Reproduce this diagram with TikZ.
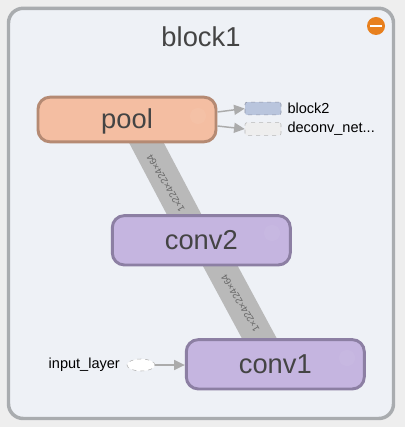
\documentclass[tikz,border=0pt]{standalone}
\usepackage{fontspec}
\setmainfont{Liberation Sans}
\usetikzlibrary{shapes,arrows.meta,positioning,calc,backgrounds}
\definecolor{pagegray}{HTML}{EEEEEE}
\definecolor{blockfill}{HTML}{EEF1F6}
\definecolor{blockline}{HTML}{A9ACAF}
\definecolor{poolfill}{HTML}{F4BEA2}
\definecolor{poolline}{HTML}{B58A73}
\definecolor{convfill}{HTML}{C5B5E0}
\definecolor{convline}{HTML}{8C7FA3}
\definecolor{edgegray}{HTML}{B9B9B9}
\definecolor{arrowgray}{HTML}{ABABAB}
\definecolor{titlegray}{HTML}{444444}
\definecolor{minusorange}{HTML}{E8801E}
\definecolor{outfill}{HTML}{B9C5DD}
\definecolor{outline}{HTML}{8F96A8}
\tikzset{
    layer/.style={draw, line width=2.2pt, rounded corners=9pt, minimum width=133.5pt, text height=14pt, text depth=0pt, text=titlegray, font=\fontsize{20.5pt}{22pt}\selectfont},
    poolbox/.style={layer, fill=poolfill, draw=poolline, minimum height=33.5pt},
    convbox/.style={layer, fill=convfill, draw=convline, minimum height=37pt},
    flowedge/.style={edgegray, line width=23pt},
    flowlabel/.style={font=\fontsize{7.2pt}{8pt}\selectfont, text=black!60, rotate=121, inner sep=0pt},
    smallarrow/.style={arrowgray, line width=1.1pt, -{Triangle[length=8pt,width=7.5pt]}},
    ghost/.style={circle, fill=white, opacity=0.05, minimum size=12pt, inner sep=0pt},
    smalllabel/.style={font=\fontsize{10.9pt}{12pt}\selectfont, inner sep=0pt},
    outbox/.style={dashed, minimum width=27pt, minimum height=9.5pt, rounded corners=1.5pt, inner sep=0pt}
}
\begin{document}
\begin{tikzpicture}[x=0.75pt,y=-0.75pt]
                \useasboundingbox (0,0) rectangle (405,427);
                % Layer nodes
                \node[poolbox] (pool) at (127,119.5) {pool};
                \node[convbox] (conv2) at (201.3,240.3) {conv2};
                \node[convbox] (conv1) at (275.3,364.3) {conv1};
                \node[ghost] (poolicon) at (198,116) {};
                \node[ghost] (conv2icon) at (272,233) {};
                \node[ghost] (conv1icon) at (347,358) {};

                % Block frame and title
                \begin{scope}[on background layer]
                    \fill[pagegray] (0,0) rectangle (405,427);
                    \draw[blockline, fill=blockfill, line width=2.6pt, rounded corners=11pt] (8.5,8.3) rectangle (393.5,418.5);
                \end{scope}
                \node[text=titlegray, font=\fontsize{20.5pt}{24pt}\selectfont] (title) at (201,37) {block1};

                % Minus button
                \node[circle, fill=minusorange, minimum size=13.5pt, inner sep=0pt] (minus) at (376,26) {};
                \node[fill=white, minimum width=9.5pt, minimum height=1.9pt, inner sep=0pt] (minusbar) at (minus) {};

                % Outputs
                \node[outbox, draw=outline, fill=outfill] (block2) at (263,108.5) {};
                \node[outbox, draw=black!28, fill=pagegray] (deconv) at (263,129) {};
                \node[smalllabel, right=4.5pt of block2] (block2label) {block2};
                \node[smalllabel, right=4.5pt of deconv] (deconvlabel) {deconv\_net...};

                % Input
                \node[ellipse, draw=black!30, dashed, fill=white, minimum width=21pt, minimum height=9pt, inner sep=0pt] (input) at (141,365) {};
                \node[smalllabel, left=5pt of input] (inputlabel) {input\_layer};

                % Flow between layers
                \coordinate (poolout) at (134.4,120);
                \coordinate (conv2in) at (197.6,240);
                \coordinate (conv2out) at (209,245);
                \coordinate (conv1in) at (271,360);
                \begin{scope}[on background layer]
                    \draw[flowedge] (poolout) -- (conv2in);
                    \draw[flowedge] (conv2out) -- (conv1in);
                \end{scope}
                \path (poolout) -- (conv2in) node[flowlabel, pos=0.5, xshift=-2pt, yshift=1.5pt] (poollabel) {1×224×224×64};
                \path (conv2out) -- (conv1in) node[flowlabel, pos=0.5, xshift=-0.5pt] (conv2label) {1×224×224×64};

                % Thin arrows
                \draw[smallarrow] (pool.east |- 0,112) -- (block2.west);
                \draw[smallarrow] (pool.east |- 0,126) -- (deconv.west);
                \draw[smallarrow] (input) -- (conv1.west |- input);
            \end{tikzpicture}
\end{document}
